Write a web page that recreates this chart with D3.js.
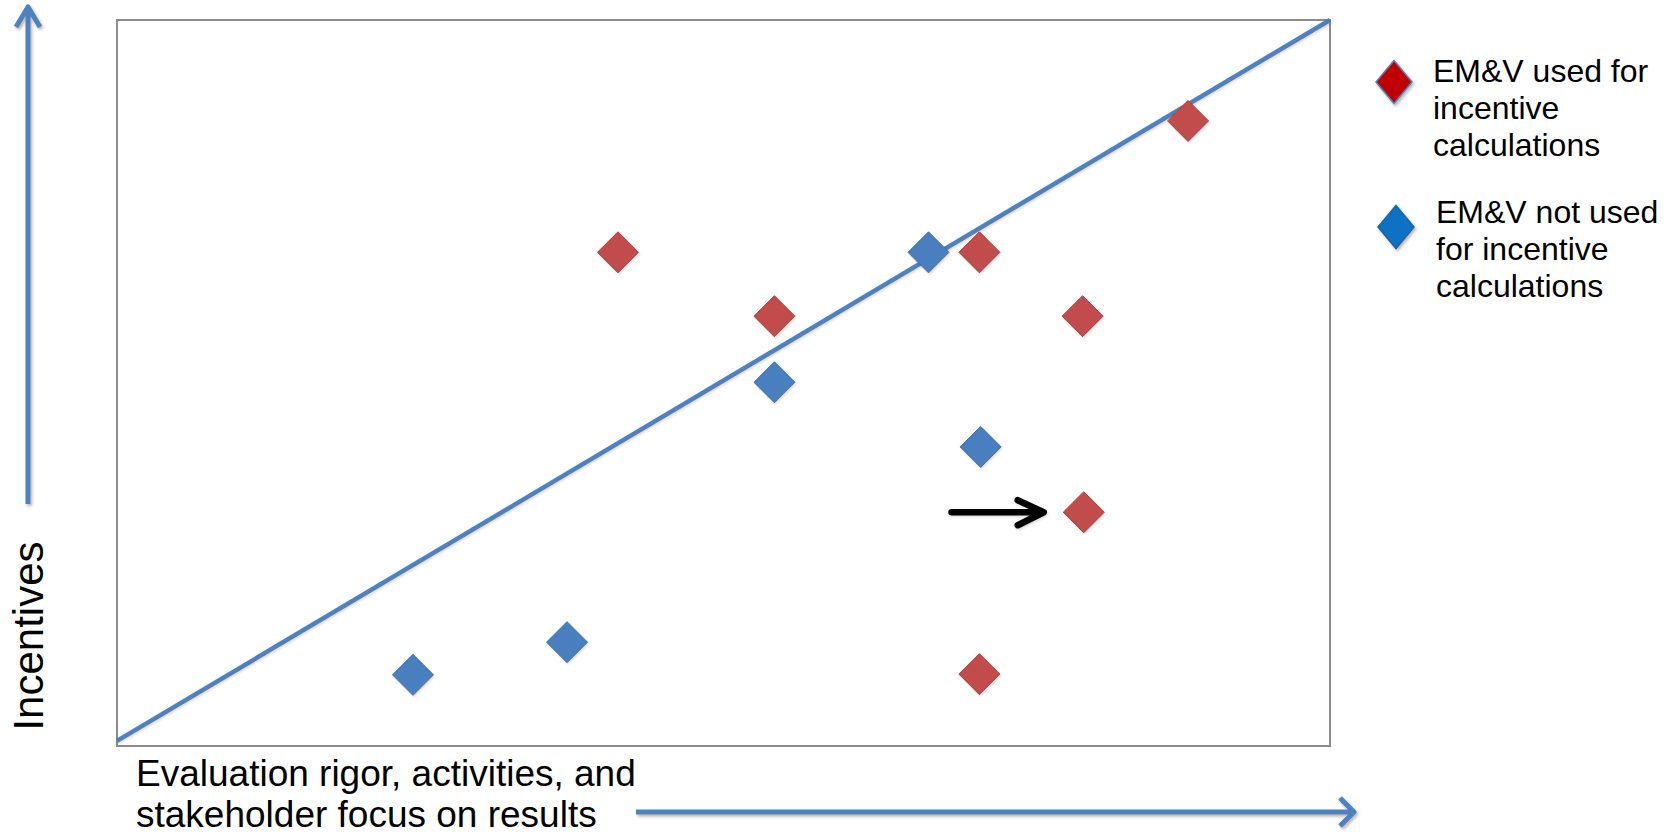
<!DOCTYPE html>
<html>
<head>
<meta charset="utf-8">
<script src="https://cdn.jsdelivr.net/npm/d3@7"></script>
<style>
html,body{margin:0;padding:0;background:#fff;}
svg{display:block;}
text{font-family:"Liberation Sans",Arial,sans-serif;fill:#000;}
</style>
</head>
<body>
<svg id="chart" width="1676" height="836"></svg>
<script>
// ---- data ----
const usedX    = [8.83, 4.13, 7.11, 5.42, 7.96, 7.97, 7.11];
const usedY    = [8.61, 6.80, 6.80, 5.92, 5.92, 3.22, 0.99];
const notUsedX = [6.69, 5.42, 7.12, 3.71, 2.44];
const notUsedY = [6.80, 5.01, 4.12, 1.43, 0.98];
const trendX   = [0, 10];
const trendY   = [0.07, 10];
const pointerX = [6.88, 7.64];
const pointerY = [3.22, 3.22];
const legendLabels = [
  ["EM&V used for", "incentive", "calculations"],
  ["EM&V not used", "for incentive", "calculations"]
];
const xTitle = ["Evaluation rigor, activities, and", "stakeholder focus on results"];
const yTitle = "Incentives";

// ---- layout ----
const svg = d3.select("#chart");
const box = {x0: 117, x1: 1330, y0: 20, y1: 746};
const x = d3.scaleLinear().domain([0, 10]).range([box.x0, box.x1]);
const y = d3.scaleLinear().domain([0, 10]).range([box.y1, box.y0]);

const defs = svg.append("defs");
function addShadow(id, dx, dy, sd, op) {
  const f = defs.append("filter").attr("id", id)
    .attr("filterUnits", "userSpaceOnUse")
    .attr("x", -3000).attr("y", -3000).attr("width", 6000).attr("height", 6000);
  f.append("feDropShadow").attr("dx", dx).attr("dy", dy).attr("stdDeviation", sd)
    .attr("flood-color", "#000").attr("flood-opacity", op);
}
addShadow("shadow", 1.5, 2, 1.5, 0.3);
addShadow("shadow2", 1, 1.5, 1, 0.15);

// plot box
svg.append("rect")
  .attr("x", box.x0).attr("y", box.y0)
  .attr("width", box.x1 - box.x0).attr("height", box.y1 - box.y0)
  .attr("fill", "#fff").attr("stroke", "#8c8c8c").attr("stroke-width", 2);

// trend diagonal
const line = d3.line().x(d => x(d[0])).y(d => y(d[1]));
svg.append("path")
  .datum(d3.zip(trendX, trendY))
  .attr("d", line)
  .attr("fill", "none").attr("stroke", "#4f81bd").attr("stroke-width", 4.5)
  .attr("filter", "url(#shadow2)");

// diamonds
const R = 20.5;
function diamond(w, h) {
  return `M0,${-h}L${w},0L0,${h}L${-w},0Z`;
}
svg.append("g").selectAll("path")
  .data(d3.zip(notUsedX, notUsedY)).join("path")
  .attr("transform", d => `translate(${x(d[0])},${y(d[1])})`)
  .attr("d", diamond(R, R))
  .attr("fill", "#4a7ebf").attr("stroke", "#3f6fa9").attr("stroke-width", 1)
  .attr("filter", "url(#shadow2)");
svg.append("g").selectAll("path")
  .data(d3.zip(usedX, usedY)).join("path")
  .attr("transform", d => `translate(${x(d[0])},${y(d[1])})`)
  .attr("d", diamond(R, R))
  .attr("fill", "#c24b4b").attr("stroke", "#a8423f").attr("stroke-width", 1)
  .attr("filter", "url(#shadow2)");

// black pointer arrow
const px0 = x(pointerX[0]), px1 = x(pointerX[1]), py = y(pointerY[0]);
svg.append("path")
  .attr("d", `M${px0},${py}L${px1 - 3},${py}M${px1 - 26},${py - 12}L${px1},${py}L${px1 - 26},${py + 13}`)
  .attr("fill", "none").attr("stroke", "#000").attr("stroke-width", 6.5)
  .attr("stroke-linecap", "round").attr("stroke-linejoin", "round")
  .attr("filter", "url(#shadow2)");

// axis arrows (blue)
const blue = "#4f81bd";
svg.append("path").attr("d", "M28,504L28,8M16,27L28,7L40,27")
  .attr("fill", "none").attr("stroke", blue).attr("stroke-width", 5)
  .attr("stroke-linejoin", "round").attr("filter", "url(#shadow)");
svg.append("path").attr("d", "M636,812L1352,812M1340,798L1354,812L1340,826")
  .attr("fill", "none").attr("stroke", blue).attr("stroke-width", 5)
  .attr("stroke-linejoin", "round").attr("filter", "url(#shadow)");

// axis titles
const xt = svg.append("text").attr("font-size", 37);
xTitle.forEach((t, i) => xt.append("tspan").attr("x", 136).attr("y", 786 + i * 41).text(t));
svg.append("text")
  .attr("transform", "translate(43,636) rotate(-90)")
  .attr("text-anchor", "middle").attr("font-size", 42).text(yTitle);

// legend
const legColors = [
  {fill: "#c00000", stroke: "#4f81bd"},
  {fill: "#0a72c4", stroke: "#1d64a8"}
];
const legCenters = [[1394, 82], [1396, 227]];
const legTextX = [1433, 1436];
const legBase = [82, 223];
legendLabels.forEach((lines, i) => {
  svg.append("path")
    .attr("transform", `translate(${legCenters[i][0]},${legCenters[i][1]})`)
    .attr("d", diamond(18, 21.5))
    .attr("fill", legColors[i].fill).attr("stroke", legColors[i].stroke).attr("stroke-width", 1.5)
    .attr("filter", "url(#shadow)");
  const t = svg.append("text").attr("font-size", 32);
  lines.forEach((s, j) => t.append("tspan").attr("x", legTextX[i]).attr("y", legBase[i] + j * 37).text(s));
});
</script>
</body>
</html>
